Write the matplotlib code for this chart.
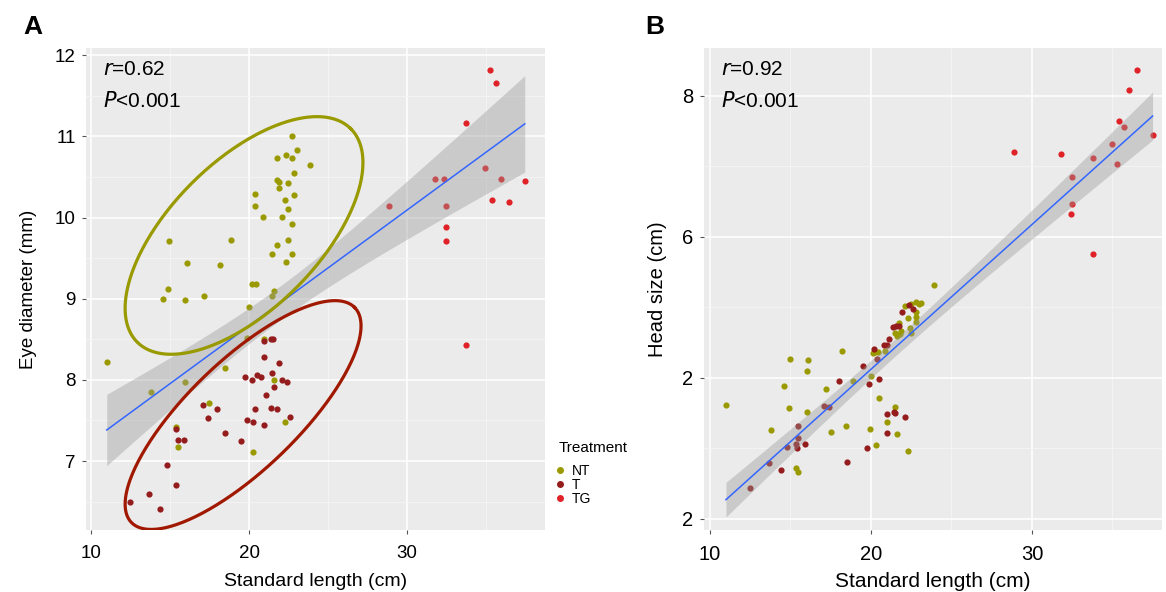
import numpy as np
import matplotlib
matplotlib.use("Agg")
import matplotlib.pyplot as plt
from matplotlib.lines import Line2D

plt.rcParams['font.family'] = ['Liberation Sans', 'DejaVu Sans']

# ------ Data: panel A (eye diameter) ------
a_nt_x = [22.74, 23.06, 21.77, 22.36, 22.74, 23.86, 22.87, 21.77, 21.90, 22.47, 21.90, 20.38,
          22.87, 22.28, 20.38, 22.47, 20.87, 22.07, 22.74, 14.96, 18.86, 22.47, 21.77, 21.48,
          22.74, 16.10, 18.16, 22.36, 20.17, 20.46, 14.87, 14.58, 15.97, 17.17, 21.58, 21.48,
          19.98, 10.99, 19.87, 20.97, 18.46, 21.56, 13.78, 15.97, 17.49, 22.28, 15.38, 15.49,
          20.27]
a_nt_y = [11.01, 10.83, 10.74, 10.77, 10.74, 10.65, 10.55, 10.46, 10.44, 10.43, 10.37, 10.29,
          10.28, 10.22, 10.14, 10.10, 10.01, 10.01, 9.92, 9.71, 9.72, 9.73, 9.66, 9.55,
          9.55, 9.44, 9.42, 9.45, 9.18, 9.18, 9.12, 9.00, 8.99, 9.04, 9.09, 9.04,
          8.90, 8.22, 8.52, 8.51, 8.15, 8.00, 7.85, 7.97, 7.71, 7.48, 7.42, 7.17,
          7.11]
a_t_x = [21.39, 21.50, 20.97, 20.97, 21.88, 21.48, 19.77, 20.19, 20.49, 20.78, 22.09, 22.38,
         21.56, 21.08, 17.06, 17.97, 17.38, 20.36, 21.37, 21.77, 19.87, 20.27, 20.97, 22.57,
         15.38, 15.49, 15.91, 18.46, 19.47, 14.79, 15.38, 13.69, 12.49, 14.37]
a_t_y = [8.50, 8.51, 8.48, 8.28, 8.21, 8.09, 8.03, 8.00, 8.06, 8.03, 8.00, 7.97,
         7.91, 7.82, 7.69, 7.64, 7.53, 7.64, 7.65, 7.64, 7.51, 7.48, 7.44, 7.54,
         7.39, 7.26, 7.26, 7.34, 7.25, 6.95, 6.71, 6.59, 6.49, 6.41]
a_tg_x = [35.25, 35.65, 33.75, 28.86, 31.77, 32.36, 34.94, 35.95, 37.45, 35.36, 36.46, 32.47,
          32.47, 32.47, 33.75]
a_tg_y = [11.82, 11.66, 11.17, 10.14, 10.48, 10.48, 10.61, 10.48, 10.45, 10.22, 10.19, 10.14,
          9.89, 9.71, 8.43]

# ------ Data: panel B (head size) ------
b_nt_x = [23.91, 22.09, 22.47, 22.80, 22.96, 23.09, 22.80, 22.80, 22.80, 22.30, 22.42, 22.50,
          21.49, 21.64, 21.80, 21.88, 21.76, 20.89, 20.27, 20.43, 20.14, 18.20, 14.97, 16.09,
          16.00, 19.98, 18.86, 14.58, 17.19, 20.50, 10.99, 14.89, 16.00, 21.47, 21.01, 13.79,
          18.47, 17.50, 19.92, 21.60, 20.29, 22.30, 15.36, 15.49]
b_nt_y = [5.31, 5.02, 5.05, 5.08, 5.05, 5.06, 4.93, 4.86, 4.79, 4.85, 4.71, 4.64,
          4.63, 4.60, 4.62, 4.67, 4.78, 4.38, 4.36, 4.36, 4.35, 4.38, 4.26, 4.25,
          4.09, 4.02, 3.95, 3.88, 3.84, 3.71, 3.62, 3.57, 3.52, 3.58, 3.37, 3.26,
          3.32, 3.23, 3.27, 3.20, 3.05, 2.96, 2.72, 2.67]
b_t_x = [22.34, 22.59, 21.91, 21.39, 21.55, 21.76, 21.10, 20.81, 21.01, 20.19, 20.39, 19.48,
         17.99, 20.52, 19.90, 17.08, 17.39, 21.41, 21.51, 21.01, 22.09, 15.49, 20.99, 15.49,
         15.36, 15.88, 15.38, 14.80, 19.77, 13.68, 18.49, 14.39, 12.47]
b_t_y = [5.03, 4.98, 4.94, 4.72, 4.74, 4.73, 4.55, 4.47, 4.46, 4.41, 4.26, 4.17,
         3.96, 3.98, 3.91, 3.60, 3.59, 3.52, 3.50, 3.49, 3.44, 3.31, 3.21, 3.15,
         3.06, 3.06, 3.00, 3.02, 3.00, 2.79, 2.81, 2.69, 2.44]
b_tg_x = [36.52, 36.00, 35.40, 35.71, 37.49, 34.99, 28.90, 31.80, 33.81, 35.30, 32.50, 32.50,
          32.40, 33.81]
b_tg_y = [8.37, 8.08, 7.64, 7.56, 7.44, 7.32, 7.21, 7.18, 7.12, 7.03, 6.85, 6.47,
          6.32, 5.75]

groups = ["NT", "T", "TG"]
colors = {"NT": "#9a9a00", "T": "#951c1c", "TG": "#df2227"}

a_yticks = [7, 8, 9, 10, 11, 12]
b_yticks = [2, 4, 6, 8]
b_yticklabels = ["2", "2", "6", "8"]   # as printed on the original
xticks = [10, 20, 30]

# ------ Helpers ------
def style_axes(ax, xlim, ylim, yticks, yminor, xminor, fs):
    ax.set_facecolor("#ebebeb")
    ax.set_xlim(*xlim)
    ax.set_ylim(*ylim)
    ax.set_xticks(xticks)
    ax.set_yticks(yticks)
    ax.set_xticks(xminor, minor=True)
    ax.set_yticks(yminor, minor=True)
    ax.grid(which="major", color="white", lw=1.1)
    ax.grid(which="minor", color="#f5f5f5", lw=0.6)
    ax.set_axisbelow(True)
    for s in ax.spines.values():
        s.set_visible(False)
    ax.tick_params(which="major", length=3, width=0.8, color="#555555",
                   labelsize=fs, labelcolor="black")
    ax.tick_params(axis="x", pad=7.5)
    ax.tick_params(axis="y", pad=4.5)
    ax.tick_params(which="minor", length=0)


def lm_band(ax, x, y):
    x = np.asarray(x)
    y = np.asarray(y)
    n = len(x)
    slope, icpt = np.polyfit(x, y, 1)
    resid = y - (slope * x + icpt)
    s = np.sqrt(np.sum(resid ** 2) / (n - 2))
    sxx = np.sum((x - x.mean()) ** 2)
    xs = np.linspace(x.min(), x.max(), 100)
    ys = slope * xs + icpt
    se = s * np.sqrt(1.0 / n + (xs - x.mean()) ** 2 / sxx)
    t = 1.99
    ax.fill_between(xs, ys - t * se, ys + t * se, color="#999999", alpha=0.4, lw=0, zorder=3)
    ax.plot(xs, ys, color="#3366ff", lw=1.1, zorder=4)


def ellipse(ax, cx, cy, u, v, color):
    t = np.linspace(0, 2 * np.pi, 300)
    ex = cx + u[0] * np.cos(t) + v[0] * np.sin(t)
    ey = cy + u[1] * np.cos(t) + v[1] * np.sin(t)
    ax.plot(ex, ey, color=color, lw=2.3, zorder=5)


fig = plt.figure(figsize=(11.66, 5.92), dpi=100)
axA = fig.add_axes([0.0738, 0.1047, 0.3936, 0.8142])
axB = fig.add_axes([0.6038, 0.1047, 0.3927, 0.8142])

# ------ Panel A ------
style_axes(axA, (9.68, 38.73), (6.15, 12.09), a_yticks,
           [6.5, 7.5, 8.5, 9.5, 10.5, 11.5], [15, 25, 35], 13.5)
a_data = {"NT": (a_nt_x, a_nt_y), "T": (a_t_x, a_t_y), "TG": (a_tg_x, a_tg_y)}
for g in groups:
    axA.scatter(*a_data[g], s=20, color=colors[g], lw=0, zorder=2)
lm_band(axA, a_nt_x + a_t_x + a_tg_x, a_nt_y + a_t_y + a_tg_y)
ellipse(axA, 19.68, 9.78, (6.76, 1.315), (-3.31, 0.644), "#999900")
ellipse(axA, 19.62, 7.567, (7.07, 1.324), (-2.40, 0.484), "#a01800")
axA.set_xlabel("Standard length (cm)", fontsize=14, labelpad=8)
axA.set_ylabel("Eye diameter (mm)", fontsize=13.5, labelpad=13)
axA.text(0.037, 0.975, r"$\it{r}$=0.62", transform=axA.transAxes, fontsize=15, va="top")
axA.text(0.037, 0.91, r"$\it{P}$<0.001", transform=axA.transAxes, fontsize=15, va="top")

# ------ Panel B ------
style_axes(axB, (9.63, 38.07), (1.84, 8.68), b_yticks, [3, 5, 7], [15, 25, 35], 14.5)
axB.set_yticklabels(b_yticklabels)
b_data = {"NT": (b_nt_x, b_nt_y), "T": (b_t_x, b_t_y), "TG": (b_tg_x, b_tg_y)}
for g in groups:
    axB.scatter(*b_data[g], s=20, color=colors[g], lw=0, zorder=2)
lm_band(axB, b_nt_x + b_t_x + b_tg_x, b_nt_y + b_t_y + b_tg_y)
axB.set_xlabel("Standard length (cm)", fontsize=15, labelpad=6)
axB.set_ylabel("Head size (cm)", fontsize=14.5, labelpad=11)
axB.text(0.037, 0.975, r"$\it{r}$=0.92", transform=axB.transAxes, fontsize=15, va="top")
axB.text(0.037, 0.91, r"$\it{P}$<0.001", transform=axB.transAxes, fontsize=15, va="top")

# ------ Legend ------
fig.text(0.4794, 0.2432, "Treatment", fontsize=11, va="center", ha="left")
handles = [Line2D([], [], ls="", marker="o", ms=4, color=colors[g]) for g in groups]
fig.legend(handles, groups, loc="upper left", bbox_to_anchor=(0.474, 0.217),
           frameon=False, fontsize=10, handletextpad=0.4, labelspacing=0.0,
           handlelength=1.0, borderaxespad=0, borderpad=0)

# ------ Panel letters ------
fig.text(0.020, 0.955, "A", fontsize=19, fontweight="bold", va="center")
fig.text(0.553, 0.955, "B", fontsize=19, fontweight="bold", va="center")

fig.savefig("out.png", dpi=100)
